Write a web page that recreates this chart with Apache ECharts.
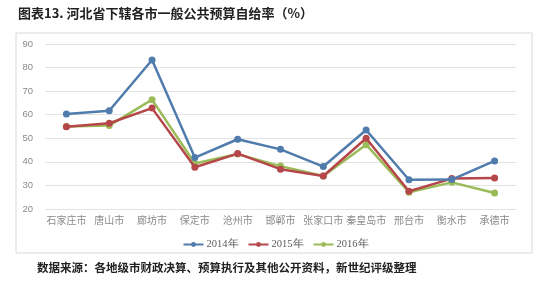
<!DOCTYPE html>
<html><head><meta charset="utf-8">
<script src="https://cdn.jsdelivr.net/npm/echarts@6/dist/echarts.min.js"></script>
<style>html,body{margin:0;padding:0;background:#fff}#c{width:551px;height:283px}</style>
</head><body><div id="c"></div>
<script>
const categories = ['石家庄市','唐山市','廊坊市','保定市','沧州市','邯郸市','张家口市','秦皇岛市','邢台市','衡水市','承德市'];
const s2014 = [60.3, 61.7, 83.2, 41.8, 49.6, 45.3, 38.0, 53.5, 32.4, 32.5, 40.4];
const s2015 = [54.9, 56.4, 62.8, 37.7, 43.5, 36.9, 34.0, 50.0, 27.5, 32.9, 33.1];
const s2016 = [55.0, 55.4, 66.4, 39.3, 43.3, 38.2, 34.0, 47.3, 27.1, 31.3, 26.8];
const seriesNames = ['2014年','2015年','2016年'];
const yTicks = {min: 20, max: 90, interval: 10};
const titleText = '图表13. 河北省下辖各市一般公共预算自给率（%）';
const sourceText = '数据来源：各地级市财政决算、预算执行及其他公开资料，新世纪评级整理';

const colors = ['#4F7CAC', '#B5474A', '#9BBB59'];
const chart = echarts.init(document.getElementById('c'), null, {renderer: 'canvas'});
const mk = (name, data, i) => ({
  name, type: 'line', data, symbol: 'circle', symbolSize: 7,
  lineStyle: {width: 2.5, color: colors[i]}, itemStyle: {color: colors[i]},
  z: 3 - i
});
chart.setOption({
  animation: false,
  color: colors,
  graphic: [
    {type: 'rect', shape: {x: 16, y: 33, width: 516, height: 220}, style: {fill: 'none', stroke: '#d9d9d9', lineWidth: 1}, silent: true},
    {type: 'text', left: 18, top: 7, style: {text: titleText, fontSize: 13, fontWeight: 'bold', fill: '#222', fontFamily: 'Noto Sans CJK SC'}},
    {type: 'text', left: 37, top: 262, style: {text: sourceText, fontSize: 11.5, fontWeight: 'bold', fill: '#222', fontFamily: 'Noto Sans CJK SC'}}
  ],
  grid: {left: 45, right: 35, top: 44, bottom: 74},
  legend: {
    data: seriesNames, top: 234, left: 'center', itemWidth: 20, itemHeight: 6, itemGap: 9,
    textStyle: {color: '#595959', fontSize: 10.5, fontFamily: 'Liberation Serif', padding: [0, 0, 0, -2]}
  },
  xAxis: {
    type: 'category', data: categories, boundaryGap: true,
    axisLine: {show: false}, axisTick: {show: false},
    axisLabel: {color: '#8a8a8a', fontSize: 10, margin: 6, interval: 0, fontFamily: 'Noto Sans CJK SC'}
  },
  yAxis: {
    type: 'value', min: yTicks.min, max: yTicks.max, interval: yTicks.interval,
    axisLine: {show: false}, axisTick: {show: false},
    axisLabel: {color: '#8a8a8a', fontSize: 9.5, margin: 12},
    splitLine: {lineStyle: {color: '#e3e3e3', width: 1}}
  },
  series: [mk(seriesNames[0], s2014, 0), mk(seriesNames[1], s2015, 1), mk(seriesNames[2], s2016, 2)]
});
</script></body></html>
